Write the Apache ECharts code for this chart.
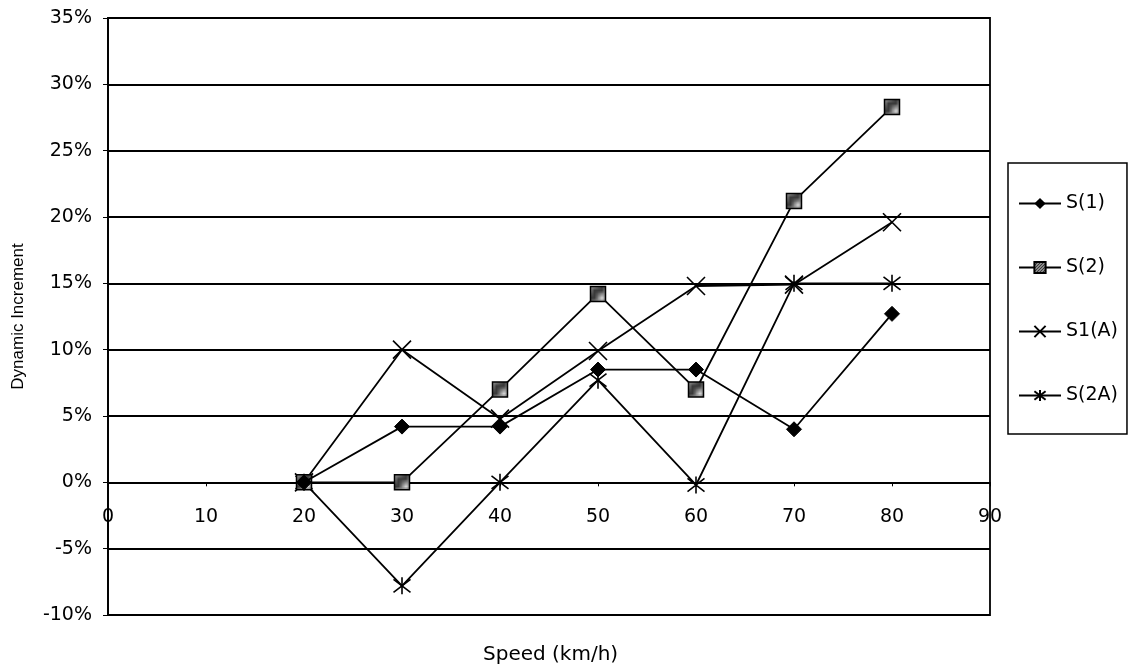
<!DOCTYPE html>
<html>
<head>
<meta charset="utf-8">
<script src="https://cdn.jsdelivr.net/npm/echarts@6/dist/echarts.min.js"></script>
<style>html,body{margin:0;padding:0;background:#fff;}#c{width:1130px;height:671px;}</style>
</head>
<body>
<div id="c"></div>
<script>
const speeds = [20, 30, 40, 50, 60, 70, 80];
const s1   = [0.000, 0.042, 0.042, 0.085, 0.085, 0.040, 0.127];
const s2   = [0.000, 0.000, 0.070, 0.142, 0.070, 0.212, 0.283];
const s1a  = [0.000, 0.100, 0.048, 0.099, 0.148, 0.149, 0.196];
const s2a  = [0.000, -0.078, 0.000, 0.077, -0.002, 0.150, 0.150];
const seriesNames = ['S(1)', 'S(2)', 'S1(A)', 'S(2A)'];
const xTicks = [0, 10, 20, 30, 40, 50, 60, 70, 80, 90];

function pairs(vals) { return speeds.map((x, i) => [x, vals[i]]); }

const WIDE = 'DejaVu Sans, Verdana, sans-serif';
const ARIAL = 'Liberation Sans, Arial, sans-serif';

// dotted dark-grey fill used by the square markers
const pat = document.createElement('canvas');
pat.width = 3; pat.height = 3;
(function () {
  const g = pat.getContext('2d');
  g.fillStyle = '#3a3a3a'; g.fillRect(0, 0, 3, 3);
  g.fillStyle = '#d8d8d8'; g.fillRect(0, 0, 1, 1); g.fillRect(2, 1, 1, 1); g.fillRect(1, 2, 1, 1);
})();
const squareFill = {image: pat, repeat: 'repeat'};

const GRID_TOP = 18, GRID_H = 597, Y_MIN = -0.10, Y_MAX = 0.35;
const zeroOffset = -GRID_H * (0 - Y_MIN) / (Y_MAX - Y_MIN);

const chart = echarts.init(document.getElementById('c'), null, {renderer: 'canvas'});

const lineStyle = {color: '#000', width: 1.8};
const symX = 'path://M0,0L10,10M10,0L0,10';
const symStar = 'path://M0,0L10,10M10,0L0,10M5,-1.5L5,11.5';

chart.setOption({
  animation: false,
  backgroundColor: '#fff',
  textStyle: {fontFamily: WIDE, color: '#000'},
  grid: {left: 108, top: GRID_TOP, width: 882, height: GRID_H, show: true, borderColor: '#000', borderWidth: 1.8, backgroundColor: 'transparent'},
  title: {text: 'Speed (km/h)', left: 483, top: 645, padding: 0,
    textStyle: {fontFamily: WIDE, fontSize: 20, fontWeight: 'normal', color: '#000'}},
  legend: {
    orient: 'vertical', left: 1008, top: 163,
    padding: [31, 9, 29, 10], itemGap: 45, itemWidth: 42, itemHeight: 14,
    borderColor: '#000', borderWidth: 1.5, backgroundColor: '#fff',
    textStyle: {fontFamily: WIDE, fontSize: 19, color: '#000'},
    data: seriesNames
  },
  xAxis: {
    type: 'value', min: 0, max: 90, interval: 10,
    offset: zeroOffset,
    axisLine: {onZero: false, lineStyle: {color: '#000', width: 1.8}},
    axisTick: {show: true, length: 4, lineStyle: {color: '#000'}},
    axisLabel: {fontFamily: WIDE, fontSize: 19, color: '#000', margin: 25, showMinLabel: true, showMaxLabel: true,
      formatter: v => xTicks.includes(v) ? String(v) : ''},
    splitLine: {show: false}
  },
  yAxis: {
    type: 'value', min: Y_MIN, max: Y_MAX, interval: 0.05,
    name: 'Dynamic Increment', nameLocation: 'middle', nameRotate: 90, nameGap: 81,
    nameTextStyle: {fontFamily: ARIAL, fontSize: 17, color: '#000'},
    axisLine: {show: true, onZero: false, lineStyle: {color: '#000', width: 1.8}},
    axisTick: {show: true, length: 5, lineStyle: {color: '#000'}},
    axisLabel: {fontFamily: WIDE, fontSize: 19, color: '#000', margin: 16,
      formatter: v => Math.round(v * 100) + '%'},
    splitLine: {show: true, lineStyle: {color: '#000', width: 1.8}}
  },
  series: [
    {name: seriesNames[0], type: 'line', data: pairs(s1), symbol: 'diamond', symbolSize: 15,
      itemStyle: {color: '#000', borderColor: '#000'}, lineStyle: lineStyle, z: 5},
    {name: seriesNames[1], type: 'line', data: pairs(s2), symbol: 'rect', symbolSize: 15,
      itemStyle: {color: squareFill, borderColor: '#000', borderWidth: 1.5}, lineStyle: lineStyle, z: 4},
    {name: seriesNames[2], type: 'line', data: pairs(s1a), symbol: symX, symbolSize: 18,
      itemStyle: {color: 'transparent', borderColor: '#000', borderWidth: 1.6}, lineStyle: lineStyle, z: 3},
    {name: seriesNames[3], type: 'line', data: pairs(s2a), symbol: symStar, symbolSize: 17,
      itemStyle: {color: 'transparent', borderColor: '#000', borderWidth: 1.6}, lineStyle: lineStyle, z: 3}
  ]
});
</script>
</body>
</html>
